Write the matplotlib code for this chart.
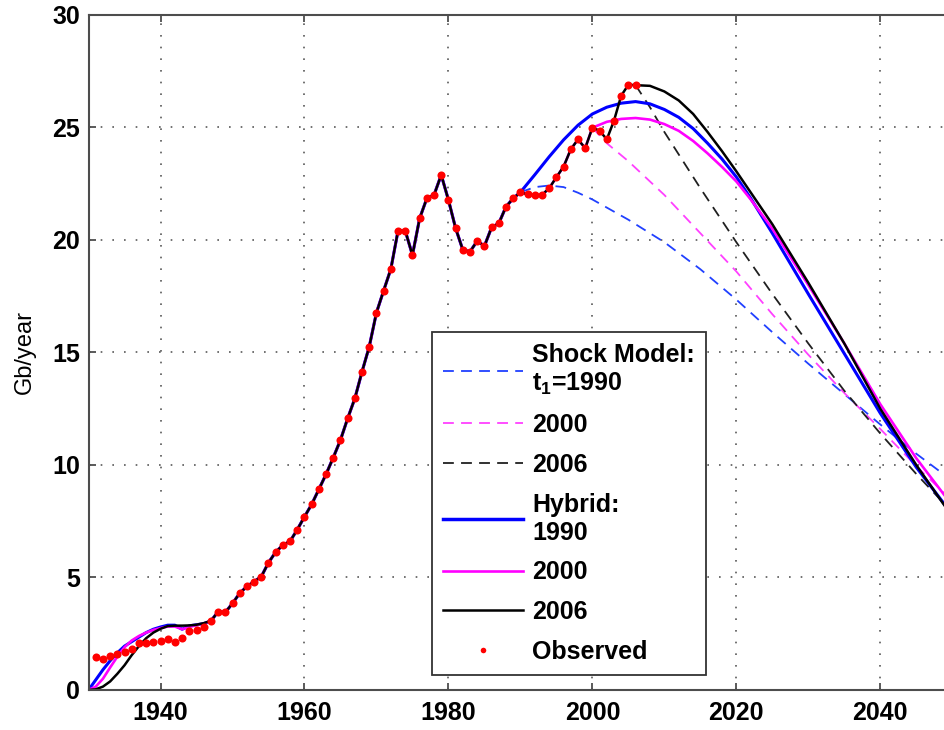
import numpy as np
from matplotlib import pyplot as plt
from matplotlib.lines import Line2D

plt.rcParams['font.family'] = ['Liberation Sans', 'DejaVu Sans']
plt.rcParams['font.weight'] = 'bold'
plt.rcParams['mathtext.fontset'] = 'custom'
plt.rcParams['mathtext.rm'] = 'Liberation Sans:bold'
plt.rcParams['mathtext.it'] = 'Liberation Sans:bold'
plt.rcParams['mathtext.bf'] = 'Liberation Sans:bold'

# observed production, Gb/year
obs_years = list(range(1931, 2007))
obs = [1.47, 1.36, 1.51, 1.60, 1.69, 1.84, 2.07, 2.07, 2.15, 2.19,
       2.25, 2.15, 2.30, 2.64, 2.67, 2.81, 3.07, 3.48, 3.45, 3.85,
       4.30, 4.60, 4.82, 5.04, 5.66, 6.13, 6.44, 6.61, 7.13, 7.70,
       8.25, 8.92, 9.59, 10.33, 11.11, 12.07, 12.96, 14.15, 15.26, 16.77,
       17.75, 18.71, 20.41, 20.41, 19.33, 20.96, 21.85, 22.00, 22.89, 21.78,
       20.52, 19.56, 19.48, 19.96, 19.73, 20.56, 20.74, 21.48, 21.85, 22.12,
       22.03, 21.98, 22.00, 22.30, 22.79, 23.26, 24.03, 24.47, 24.08, 24.99,
       24.86, 24.47, 25.30, 26.41, 26.90, 26.88]

# early part of the hybrid fits (1930-1947)
early_years = list(range(1930, 1948))
hyb1990_early = [0.0, 0.45, 0.9, 1.3, 1.65, 1.95, 2.15, 2.35, 2.55, 2.7,
                 2.8, 2.88, 2.88, 2.7, 2.85, 2.9, 2.95, 3.07]
hyb2000_early = [0.0, 0.15, 0.5, 1.0, 1.48, 1.9, 2.2, 2.4, 2.55, 2.67,
                 2.75, 2.82, 2.82, 2.7, 2.8, 2.88, 2.95, 3.07]
hyb2006_early = [0.0, 0.03, 0.15, 0.38, 0.72, 1.1, 1.55, 1.95, 2.3, 2.55,
                 2.72, 2.84, 2.86, 2.86, 2.87, 2.9, 2.97, 3.07]

# hybrid forecasts from t1
hyb1990_years = [1990, 1992, 1994, 1996, 1998, 2000, 2002, 2004, 2006, 2008, 2010,
                 2012, 2014, 2016, 2018, 2020, 2022, 2025, 2030, 2035, 2040, 2045, 2050]
hyb1990 = [22.12, 22.9, 23.7, 24.45, 25.1, 25.6, 25.9, 26.08, 26.15, 26.05, 25.8,
           25.45, 24.95, 24.3, 23.6, 22.8, 21.85, 20.3, 17.6, 14.95, 12.3, 9.9, 7.8]
hyb2000_years = [2000, 2002, 2004, 2006, 2008, 2010, 2012, 2014, 2016, 2018,
                 2020, 2022, 2025, 2030, 2035, 2040, 2045, 2050]
hyb2000 = [24.99, 25.25, 25.38, 25.42, 25.35, 25.15, 24.85, 24.4, 23.85, 23.25,
           22.6, 21.8, 20.5, 18.0, 15.4, 12.7, 10.3, 8.2]
hyb2006_years = [2006, 2008, 2010, 2012, 2014, 2016, 2018, 2020, 2025, 2030,
                 2035, 2040, 2045, 2050]
hyb2006 = [26.88, 26.85, 26.6, 26.2, 25.6, 24.8, 23.95, 23.05, 20.7, 18.1,
           15.4, 12.5, 10.0, 7.7]

# shock model forecasts
shk1990_years = [1990, 1992, 1994, 1996, 1998, 2000, 2005, 2010, 2015, 2020,
                 2025, 2030, 2035, 2040, 2045, 2050]
shk1990 = [22.12, 22.35, 22.42, 22.35, 22.1, 21.8, 20.9, 19.9, 18.7, 17.35,
           15.9, 14.5, 13.15, 11.8, 10.5, 9.3]
shk2000_years = [2000, 2002, 2005, 2010, 2015, 2020, 2025, 2030, 2035, 2040, 2045, 2050]
shk2000 = [24.99, 24.3, 23.5, 22.0, 20.3, 18.6, 16.7, 14.9, 13.2, 11.6, 9.95, 8.4]
shk2006_years = [2006, 2008, 2010, 2012, 2015, 2020, 2025, 2030, 2035, 2040, 2045, 2050]
shk2006 = [26.88, 25.9, 24.8, 23.8, 22.3, 19.9, 17.6, 15.4, 13.3, 11.4, 9.6, 7.9]


def hybrid(early, t1, fc_years, fc):
    # early fit + observed path up to t1 + forecast
    mid_y = [y for y in obs_years if 1947 < y < t1]
    mid_v = [obs[obs_years.index(y)] for y in mid_y]
    return early_years + mid_y + fc_years, early + mid_v + fc


fig = plt.figure(figsize=(9.45, 7.3), dpi=100)
ax = fig.add_axes([0.0937, 0.0548, 0.914, 0.9247])

dash = (0, (6, 4))
ax.plot(shk1990_years, shk1990, color='#2040ff', lw=1.3, linestyle=dash)
ax.plot(shk2000_years, shk2000, color='#ff40ff', lw=1.3, linestyle=dash)
ax.plot(shk2006_years, shk2006, color='#202020', lw=1.3, linestyle=dash)

x, y = hybrid(hyb1990_early, 1990, hyb1990_years, hyb1990)
ax.plot(x, y, color='#0000ff', lw=2.2)
x, y = hybrid(hyb2000_early, 2000, hyb2000_years, hyb2000)
ax.plot(x, y, color='#ff00ff', lw=1.9)
x, y = hybrid(hyb2006_early, 2006, hyb2006_years, hyb2006)
ax.plot(x, y, color='black', lw=1.8)

ax.plot(obs_years, obs, 'o', color='red', markersize=5.8, markeredgewidth=0)

ax.set_xlim(1930, 2050)
ax.set_ylim(0, 30)
ax.set_xticks([1940, 1960, 1980, 2000, 2020, 2040])
ax.set_yticks([0, 5, 10, 15, 20, 25, 30])
ax.grid(True, linestyle=(0, (1, 6)), linewidth=1.2, color='0.35')
ax.tick_params(direction='in', length=5, width=1.3, labelsize=18, pad=6,
               top=True, right=True, color='0.3')
ax.tick_params(axis='x', pad=8)
for s in ax.spines.values():
    s.set_color('0.3')
    s.set_linewidth(1.5)
ax.set_ylabel('Gb/year', fontsize=17, fontweight='normal')
ax.yaxis.set_label_coords(-0.061, 0.5)

handles = [
    Line2D([], [], color='#2040ff', lw=1.3, linestyle=dash),
    Line2D([], [], color='#ff40ff', lw=1.3, linestyle=dash),
    Line2D([], [], color='#202020', lw=1.3, linestyle=dash),
    Line2D([], [], color='#0000ff', lw=2.5),
    Line2D([], [], color='#ff00ff', lw=1.9),
    Line2D([], [], color='black', lw=1.8),
    Line2D([], [], color='red', marker='o', linestyle='none', markersize=4, markeredgewidth=0),
]
labels = ['Shock Model:\nt$_1$=1990', '2000', '2006', 'Hybrid:\n1990', '2000', '2006', 'Observed']
leg = ax.legend(handles, labels, loc='upper left', bbox_to_anchor=(432 / 945, 398 / 730),
                bbox_transform=fig.transFigure, borderaxespad=0, fontsize=18,
                handlelength=3.2, handletextpad=0.35, labelspacing=0.63,
                borderpad=0.45, fancybox=False, framealpha=1, edgecolor='0.2')
leg.get_frame().set_linewidth(1.3)

plt.savefig('out.png', dpi=100)
